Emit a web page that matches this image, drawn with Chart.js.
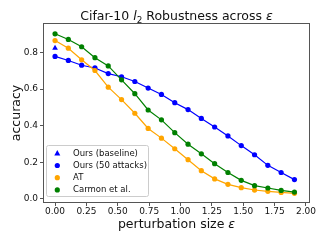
<!DOCTYPE html>
<html>
<head>
<meta charset="utf-8">
<script src="https://cdn.jsdelivr.net/npm/chart.js@4"></script>
<style>
  html, body { margin: 0; padding: 0; background: #fff; }
  #wrap { width: 324px; height: 243px; }
</style>
</head>
<body>
<div id="wrap"><canvas id="c" width="324" height="243"></canvas></div>
<script>
// perturbation sizes (x)
const eps = [0, 0.106, 0.212, 0.318, 0.424, 0.53, 0.636, 0.742, 0.848, 0.954,
             1.06, 1.166, 1.272, 1.378, 1.484, 1.59, 1.696, 1.802, 1.908];

const oursBaseline = [0.825];   // only at eps = 0
const ours50 = [0.779, 0.757, 0.731, 0.716, 0.685, 0.668, 0.642, 0.606, 0.571, 0.526,
                0.488, 0.440, 0.393, 0.344, 0.291, 0.241, 0.183, 0.144, 0.105];
const at = [0.866, 0.824, 0.761, 0.702, 0.611, 0.543, 0.468, 0.385, 0.332, 0.274,
            0.214, 0.154, 0.109, 0.079, 0.061, 0.048, 0.041, 0.035, 0.030];
const carmon = [0.903, 0.872, 0.832, 0.772, 0.727, 0.651, 0.575, 0.486, 0.432, 0.362,
                0.299, 0.246, 0.192, 0.144, 0.101, 0.072, 0.059, 0.046, 0.037];

const labels = ['Ours (baseline)', 'Ours (50 attacks)', 'AT', 'Carmon et al.'];
const colors = ['#0000ff', '#0000ff', '#ffa500', '#008000'];
const xTicks = [0, 0.25, 0.5, 0.75, 1, 1.25, 1.5, 1.75, 2];
const yTicks = [0, 0.2, 0.4, 0.6, 0.8];

const pts = vals => vals.map((v, i) => ({x: eps[i], y: v}));

const FONT = 'DejaVu Sans';

const decor = {
  id: 'decor',
  afterDraw(chart) {
    const ctx = chart.ctx;
    const a = chart.chartArea;
    ctx.save();
    // frame on all sides
    ctx.strokeStyle = '#555';
    ctx.lineWidth = 1;
    ctx.strokeRect(a.left + 0.5, a.top + 0.5, a.right - a.left - 1, a.bottom - a.top - 1);

    // title with italic l and subscript 2
    const cx = (a.left + a.right) / 2;
    const parts = [
      {t: 'Cifar-10 ', f: '12.5px ' + FONT, dy: 0},
      {t: 'l', f: 'italic 12.5px ' + FONT, dy: 0},
      {t: '2', f: '8.8px ' + FONT, dy: 2.5},
      {t: ' Robustness across ', f: '12.5px ' + FONT, dy: 0},
      {t: 'ε', f: 'italic 12.5px ' + FONT, dy: 0}
    ];
    drawParts(ctx, parts, cx, 20);

    // x axis title with italic epsilon
    drawParts(ctx, [
      {t: 'perturbation size ', f: '12.5px ' + FONT, dy: 0},
      {t: 'ε', f: 'italic 12.5px ' + FONT, dy: 0}
    ], cx, 228);

    // legend in lower left
    const lx = a.left + 3, ly = 145, lw = 102, lh = 51;
    ctx.beginPath();
    ctx.roundRect(lx + 0.5, ly + 0.5, lw, lh, 2);
    ctx.fillStyle = 'rgba(255,255,255,0.8)';
    ctx.fill();
    ctx.strokeStyle = '#cccccc';
    ctx.lineWidth = 1;
    ctx.stroke();
    ctx.font = '8.5px ' + FONT;
    ctx.textBaseline = 'middle';
    ctx.textAlign = 'left';
    for (let i = 0; i < labels.length; i++) {
      const y = 153.3 + i * 12.2;
      ctx.fillStyle = colors[i];
      ctx.beginPath();
      if (i === 0) {
        ctx.moveTo(57.3, y - 3.2);
        ctx.lineTo(60.3, y + 2.2);
        ctx.lineTo(54.3, y + 2.2);
        ctx.closePath();
      } else {
        ctx.arc(57.3, y, 2.6, 0, Math.PI * 2);
      }
      ctx.fill();
      ctx.fillStyle = '#111';
      ctx.fillText(labels[i], 73, y);
    }
    ctx.restore();
  }
};

function drawParts(ctx, parts, cx, baseY) {
  ctx.save();
  ctx.fillStyle = '#111';
  ctx.textBaseline = 'alphabetic';
  ctx.textAlign = 'left';
  let total = 0;
  for (const p of parts) { ctx.font = p.f; total += ctx.measureText(p.t).width; }
  let x = cx - total / 2;
  for (const p of parts) {
    ctx.font = p.f;
    ctx.fillText(p.t, x, baseY + p.dy);
    x += ctx.measureText(p.t).width;
  }
  ctx.restore();
}

const line = (label, vals, color, order) => ({
  label: label,
  data: pts(vals),
  borderColor: color,
  backgroundColor: color,
  borderWidth: 1.2,
  pointRadius: 2.6,
  pointHoverRadius: 2.6,
  pointBorderWidth: 0,
  showLine: true,
  tension: 0,
  order: order
});

new Chart(document.getElementById('c').getContext('2d'), {
  type: 'scatter',
  data: {
    datasets: [
      {
        label: labels[0],
        data: pts(oursBaseline),
        backgroundColor: colors[0],
        borderColor: colors[0],
        pointStyle: 'triangle',
        pointRadius: 3.3,
        pointBorderWidth: 0,
        showLine: false,
        order: 3
      },
      line(labels[1], ours50, colors[1], 2),
      line(labels[2], at, colors[2], 1),
      line(labels[3], carmon, colors[3], 0)
    ]
  },
  options: {
    responsive: false,
    animation: false,
    events: [],
    layout: { padding: { top: 23, right: 14, left: 0, bottom: 0 } },
    plugins: {
      legend: { display: false },
      tooltip: { enabled: false }
    },
    scales: {
      x: {
        type: 'linear',
        min: -0.096,
        max: 2.032,
        afterFit(s) { s.height = 40; },
        afterBuildTicks(s) { s.ticks = xTicks.map(v => ({value: v})); },
        ticks: {
          autoSkip: false,
          maxRotation: 0,
          padding: 0,
          color: '#111',
          font: { family: FONT, size: 9 },
          callback: v => Number(v).toFixed(2)
        },
        grid: { display: true, drawOnChartArea: false, drawTicks: true, tickLength: 3, color: '#555' },
        border: { display: false }
      },
      y: {
        type: 'linear',
        min: -0.023,
        max: 0.962,
        afterFit(s) { s.width = 43; },
        afterBuildTicks(s) { s.ticks = yTicks.map(v => ({value: v})); },
        ticks: {
          autoSkip: false,
          padding: 2,
          color: '#111',
          font: { family: FONT, size: 9 },
          callback: v => Number(v).toFixed(1)
        },
        grid: { display: true, drawOnChartArea: false, drawTicks: true, tickLength: 3, color: '#555' },
        border: { display: false },
        title: {
          display: true,
          text: 'accuracy',
          color: '#111',
          font: { family: FONT, size: 12.5 },
          padding: { top: 9, bottom: 0 }
        }
      }
    }
  },
  plugins: [decor]
});
</script>
</body>
</html>
